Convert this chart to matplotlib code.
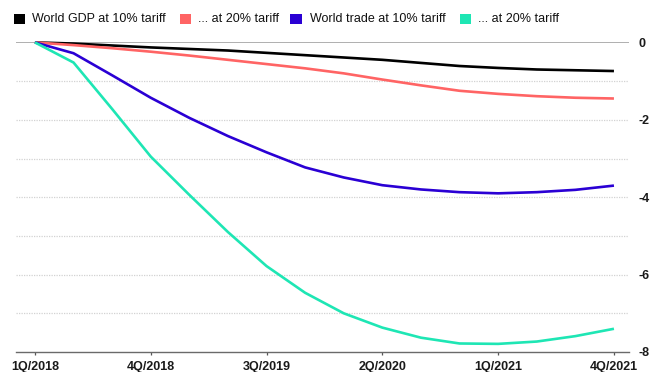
import matplotlib
matplotlib.use("Agg")
import matplotlib.pyplot as plt
from matplotlib.patches import Rectangle

plt.rcParams['font.family'] = ['Liberation Sans', 'DejaVu Sans']

# Quarterly projections, deviation from baseline (%)
quarters = ["1Q/2018", "2Q/2018", "3Q/2018", "4Q/2018",
            "1Q/2019", "2Q/2019", "3Q/2019", "4Q/2019",
            "1Q/2020", "2Q/2020", "3Q/2020", "4Q/2020",
            "1Q/2021", "2Q/2021", "3Q/2021", "4Q/2021"]
gdp_10 = [0, -0.03, -0.08, -0.13, -0.17, -0.21, -0.27, -0.33,
          -0.39, -0.45, -0.53, -0.61, -0.66, -0.70, -0.72, -0.74]
gdp_20 = [0, -0.07, -0.15, -0.24, -0.34, -0.45, -0.56, -0.67,
          -0.80, -0.96, -1.11, -1.25, -1.33, -1.39, -1.43, -1.45]
trade_10 = [0, -0.28, -0.85, -1.43, -1.95, -2.42, -2.84, -3.23,
            -3.49, -3.69, -3.80, -3.87, -3.90, -3.87, -3.81, -3.70]
trade_20 = [0, -0.52, -1.72, -2.95, -3.94, -4.90, -5.78, -6.47,
            -7.00, -7.37, -7.63, -7.78, -7.79, -7.73, -7.59, -7.40]

series_labels = ["World GDP at 10% tariff", "... at 20% tariff",
                 "World trade at 10% tariff", "... at 20% tariff"]
series_colors = ["#000000", "#ff6464", "#2a00d4", "#1ee6b4"]
series_values = [gdp_10, gdp_20, trade_10, trade_20]

tick_idx = [0, 3, 6, 9, 12, 15]
y_labels = [0, -2, -4, -6, -8]

W, H = 651, 372
fig = plt.figure(figsize=(W / 100, H / 100), dpi=100)
fig.patch.set_facecolor("white")

left_px, right_px, top_px, bottom_px = 16, 629, 42.4, 352
ax = fig.add_axes([left_px / W, 1 - bottom_px / H,
                   (right_px - left_px) / W, (bottom_px - top_px) / H])

x = list(range(len(quarters)))

# gridlines
for v in range(-7, 0):
    ax.axhline(v, color="#d2d2d2", lw=0.9, ls=(0, (1, 1)), zorder=0)
ax.axhline(0, color="#9a9a9a", lw=1.1, zorder=1)

for vals, col in zip(series_values, series_colors):
    ax.plot(x, vals, color=col, lw=1.9, solid_capstyle="butt",
            solid_joinstyle="round", clip_on=False, zorder=3)

ax.set_xlim(-0.49, 15.39)
ax.set_ylim(-8, 0)

for s in ["top", "left", "right"]:
    ax.spines[s].set_visible(False)
ax.spines["bottom"].set_color("#6a6a6a")
ax.spines["bottom"].set_linewidth(1.0)

ax.set_xticks(tick_idx)
ax.set_xticklabels([quarters[i] for i in tick_idx], fontsize=9,
                   fontweight="bold")
ax.tick_params(axis="x", direction="out", length=2.4, width=0.9,
               color="#555555", pad=4, labelcolor="#1a1a1a")

ax.yaxis.tick_right()
ax.set_yticks(y_labels)
ax.set_yticklabels([str(v) for v in y_labels], fontsize=9,
                   fontweight="bold")
ax.tick_params(axis="y", length=0, pad=6.5, labelcolor="#1a1a1a")
for lbl in ax.get_yticklabels():
    lbl.set_horizontalalignment("left")

# legend row
leg_sq_x = [13.5, 179.5, 290, 459.5]
leg_txt_x = [32.5, 198, 310, 478]
sq_w, sq_h = 11.5, 10
leg_y = 19
for sx, tx, lab, col in zip(leg_sq_x, leg_txt_x, series_labels, series_colors):
    fig.patches.append(Rectangle((sx / W, 1 - (leg_y + sq_h / 2) / H),
                                 sq_w / W, sq_h / H,
                                 transform=fig.transFigure, color=col, lw=0))
    fig.text(tx / W, 1 - leg_y / H, lab, fontsize=9, va="center", ha="left",
             color="#111111")

fig.savefig("out.png", dpi=100)
